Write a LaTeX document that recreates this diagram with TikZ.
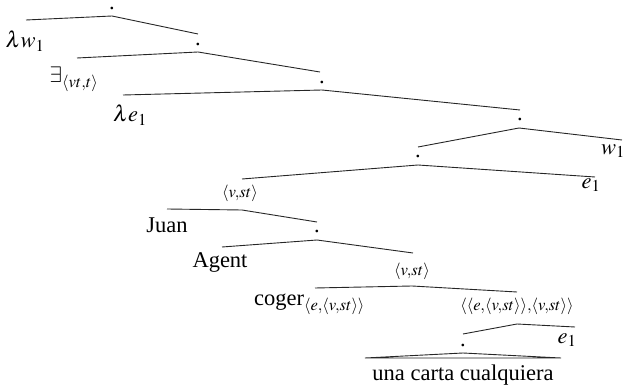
\documentclass[tikz,border=0pt]{standalone}
\usepackage{mathptmx}
\usepackage{fontspec}
\setmainfont{Liberation Serif}
\begin{document}
\begin{tikzpicture}[x=1pt,y=-1pt,
  lab/.style={inner sep=0pt, font=\fontsize{22.5}{27}\selectfont},
  edge/.style={line width=0.9pt, black!85}]
\useasboundingbox (0,0) rectangle (630,390);
% labels
\node[lab] (r)     at (112,8)   {.};
\node[lab] (lw)    at (25,41)   {$\lambda w_1$};
\node[lab] (n2)    at (198,44)  {.};
\node[lab] (ex)    at (74,79)   {$\exists_{\langle vt,t\rangle}$};
\node[lab] (n3)    at (322,82)  {.};
\node[lab] (le)    at (130,115) {$\lambda e_1$};
\node[lab] (n4)    at (520,119) {.};
\node[lab] (w1)    at (613,151) {$w_1$};
\node[lab] (n5)    at (418,156) {.};
\node[lab] (n6)    at (240,193) {$\scriptstyle\langle v,st\rangle$};
\node[lab] (e1a)   at (591,185) {$e_1$};
\node[lab] (juan)  at (167,225) {Juan};
\node[lab] (n7)    at (317,231) {.};
\node[lab] (agent) at (220,263) {Agent};
\node[lab] (n8)    at (412,271) {$\scriptstyle\langle v,st\rangle$};
\node[lab, anchor=base west] (coger) at (254,306) {coger$_{\langle e,\langle v,st\rangle\rangle}$};
\node[lab] (n9)    at (517,306) {$\scriptstyle\langle\langle e,\langle v,st\rangle\rangle,\langle v,st\rangle\rangle$};
\node[lab] (n10)   at (463,345) {.};
\node[lab] (e1b)   at (567,340) {$e_1$};
\node[lab] (una)   at (463,375) {una carta cualquiera};
% connector end points
\coordinate (r-a)   at (112,16);
\coordinate (lw-t)  at (26,20);
\coordinate (n2-t)  at (198,34);
\coordinate (n2-a)  at (198,52);
\coordinate (ex-t)  at (77,58);
\coordinate (n3-t)  at (320,72);
\coordinate (n3-a)  at (322,90);
\coordinate (le-t)  at (123,95);
\coordinate (n4-t)  at (520,110);
\coordinate (n4-a)  at (519,128);
\coordinate (n5-t)  at (418,147);
\coordinate (n5-a)  at (418,165);
\coordinate (w1-t)  at (622,140);
\coordinate (n6-t)  at (242,179);
\coordinate (n6-a)  at (242,210);
\coordinate (e1a-t) at (595,177);
\coordinate (juan-t) at (167,209);
\coordinate (n7-t)  at (317,222);
\coordinate (n7-a)  at (317,240);
\coordinate (agent-t) at (222,247);
\coordinate (n8-t)  at (413,253);
\coordinate (n8-a)  at (412,286);
\coordinate (coger-t) at (315,288);
\coordinate (n9-t)  at (517,292);
\coordinate (n9-a)  at (517,324);
\coordinate (n10-t) at (463,334);
\coordinate (n10-a) at (463,353);
\coordinate (e1b-t) at (575,327);
\coordinate (una-l) at (365,358);
\coordinate (una-r) at (561,358);
% connectors
\draw[edge] (lw-t) -- (r-a) -- (n2-t);
\draw[edge] (ex-t) -- (n2-a) -- (n3-t);
\draw[edge] (le-t) -- (n3-a) -- (n4-t);
\draw[edge] (n5-t) -- (n4-a) -- (w1-t);
\draw[edge] (n6-t) -- (n5-a) -- (e1a-t);
\draw[edge] (juan-t) -- (n6-a) -- (n7-t);
\draw[edge] (agent-t) -- (n7-a) -- (n8-t);
\draw[edge] (coger-t) -- (n8-a) -- (n9-t);
\draw[edge] (n10-t) -- (n9-a) -- (e1b-t);
\draw[edge] (una-l) -- (n10-a) -- (una-r) -- cycle;
\end{tikzpicture}
\end{document}
